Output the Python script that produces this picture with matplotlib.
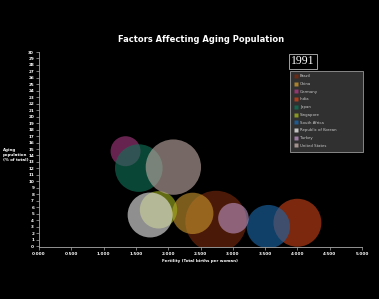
import matplotlib
matplotlib.use("Agg")
import matplotlib.pyplot as plt
import numpy as np

countries = ["Brazil", "China", "Germany", "India", "Japan", "Singapore",
             "South Africa", "Republic of Korean", "Turkey", "United States"]
fertility = [2.74, 2.38, 1.34, 4.00, 1.545, 1.85, 3.55, 1.72, 3.01, 2.08]
aging_pct = [3.8, 5.05, 14.66, 3.6, 12.05, 5.6, 3.0, 4.8, 4.3, 12.2]
bubble_metric = [942, 428, 225, 576, 567, 350, 471, 506, 234, 767]
colors = ["#7a2a0c", "#c8952e", "#a83a80", "#c84218", "#107256", "#a0b020",
          "#1a66a8", "#e8e8e8", "#b890c0", "#c0aaa4"]
year_label = "1991"
x_ticks = np.arange(0, 5.01, 0.5)
y_ticks = np.arange(0, 31, 1)

fig = plt.figure(figsize=(3.79, 2.99), dpi=100, facecolor="black")
ax = fig.add_axes([39/379, 1-247/299, 323/379, 195/299], facecolor="black")

for c, x, y, s, col in zip(countries, fertility, aging_pct, bubble_metric, colors):
    ax.scatter([x], [y], s=s*2.07, color=col, alpha=0.62, edgecolors="none",
               label=c, zorder=2)

ax.set_xlim(0, 5)
ax.set_ylim(-0.15, 30)
ax.set_xticks(x_ticks)
ax.set_xticklabels([f"{v:.3f}" for v in x_ticks])
ax.set_yticks(y_ticks)
ax.set_yticklabels([str(v) for v in y_ticks])
ax.tick_params(colors="#aaaaaa", labelcolor="white", labelsize=3.0, length=2,
               width=0.5, pad=1.5)
for t in ax.get_xticklabels() + ax.get_yticklabels():
    t.set_fontweight("bold")
for side in ["top", "right"]:
    ax.spines[side].set_visible(False)
for side in ["left", "bottom"]:
    ax.spines[side].set_color("#aaaaaa")
    ax.spines[side].set_linewidth(0.6)

ax.set_xlabel("Fertility (Total births per woman)", color="white", fontsize=2.9,
              fontweight="bold", labelpad=2)
fig.text(3/379, 1-148/299, "Aging\npopulation\n(% of total)", color="white",
         fontsize=2.9, fontweight="bold", ha="left", va="top", linespacing=1.3)

fig.text(201/379, 1-39/299, "Factors Affecting Aging Population", color="white",
         fontsize=6.0, fontweight="bold", ha="center", va="center")

fig.text(303/379, 1-61.5/299, year_label, color="white", fontsize=8.5,
         family="Liberation Serif", ha="center", va="center",
         bbox=dict(boxstyle="square,pad=0.15", facecolor="black",
                   edgecolor="#bbbbbb", linewidth=0.6))

handles = [plt.Line2D([], [], marker="s", linestyle="none", markersize=2.8,
                      markerfacecolor=col, markeredgecolor="none", alpha=0.8)
           for col in colors]
leg = ax.legend(handles, countries, loc="upper left", mode="expand",
                bbox_to_anchor=(0.771, 0.487, 0.238, 0.428), fontsize=2.8,
                labelcolor="#cccccc",
                frameon=True, facecolor="#303030", edgecolor="#999999",
                framealpha=1, labelspacing=0.95, borderpad=1.0,
                handletextpad=0.6, handlelength=1.0, fancybox=False)
leg.get_frame().set_linewidth(0.6)

fig.savefig("out.png", dpi=100, facecolor="black")
